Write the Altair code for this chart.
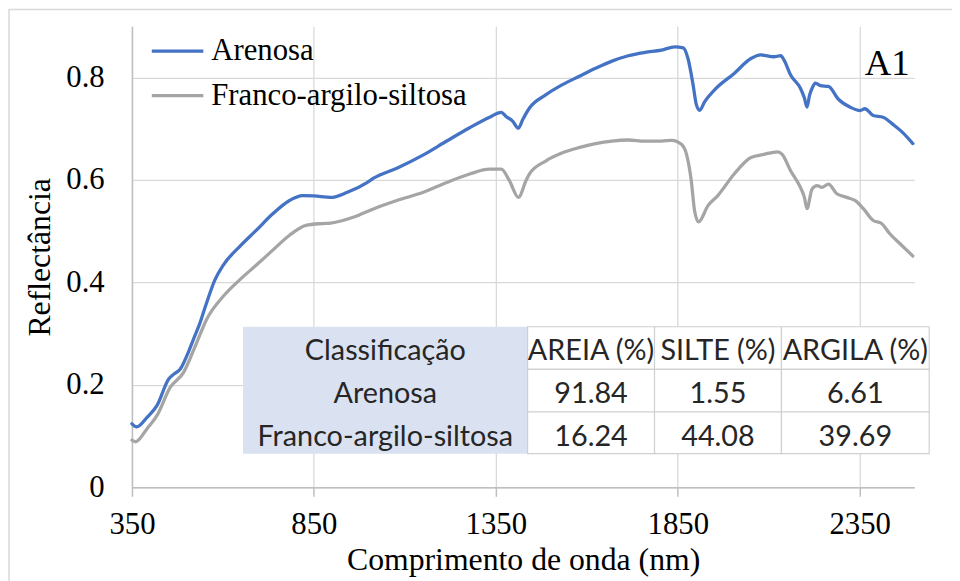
import altair as alt
import pandas as pd

# ---- data ----
aren_wl = [350, 363, 392, 419, 451, 465, 483, 501, 519, 537, 555, 578, 601, 646, 692, 737, 783,
           819, 850, 896, 942, 996, 1015, 1078, 1151, 1215, 1278, 1333, 1365, 1378, 1396, 1412,
           1424, 1442, 1487, 1533, 1578, 1624, 1669, 1714, 1760, 1805, 1842, 1865, 1878, 1892,
           1901, 1910, 1924, 1951, 2005, 2051, 2078, 2114, 2133, 2142, 2160, 2187, 2198, 2205,
           2212, 2219, 2228, 2242, 2264, 2292, 2324, 2351, 2364, 2387, 2414, 2442, 2469, 2496]
aren_r = [0.124, 0.118, 0.137, 0.160, 0.2115, 0.221, 0.231, 0.257, 0.289, 0.321, 0.360, 0.405,
          0.434, 0.470, 0.502, 0.534, 0.560, 0.5696, 0.569, 0.566, 0.576, 0.595, 0.604, 0.623,
          0.649, 0.676, 0.702, 0.7225, 0.732, 0.724, 0.715, 0.701, 0.718, 0.740, 0.766, 0.786,
          0.802, 0.818, 0.832, 0.8425, 0.849, 0.8535, 0.860, 0.858, 0.837, 0.786, 0.747, 0.736,
          0.753, 0.776, 0.808, 0.837, 0.844, 0.8405, 0.8425, 0.834, 0.805, 0.779, 0.760, 0.742,
          0.765, 0.779, 0.789, 0.784, 0.7825, 0.757, 0.742, 0.7355, 0.739, 0.726, 0.7225, 0.708,
          0.692, 0.671]

franco_wl = [350, 360, 392, 419, 455, 492, 528, 555, 601, 646, 692, 737, 783, 828, 873, 896,
             960, 1015, 1078, 1151, 1215, 1278, 1333, 1365, 1387, 1412, 1433, 1442, 1487, 1533,
             1578, 1624, 1669, 1714, 1760, 1805, 1833, 1860, 1874, 1887, 1896, 1907, 1933, 1960,
             2005, 2051, 2087, 2124, 2137, 2160, 2187, 2198, 2205, 2219, 2233, 2246, 2264, 2287,
             2314, 2337, 2360, 2387, 2410, 2432, 2460, 2496]
franco_r = [0.092, 0.089, 0.115, 0.1405, 0.195, 0.2245, 0.2826, 0.3277, 0.373, 0.405, 0.434,
            0.463, 0.492, 0.5115, 0.515, 0.516, 0.5276, 0.544, 0.560, 0.576, 0.595, 0.6116,
            0.621, 0.621, 0.599, 0.566, 0.599, 0.6116, 0.637, 0.653, 0.663, 0.671, 0.676, 0.678,
            0.676, 0.676, 0.6775, 0.6696, 0.650, 0.599, 0.5405, 0.518, 0.550, 0.5696, 0.6116,
            0.6437, 0.650, 0.655, 0.650, 0.618, 0.5856, 0.566, 0.544, 0.5826, 0.589, 0.5856,
            0.592, 0.573, 0.566, 0.560, 0.544, 0.521, 0.515, 0.4955, 0.476, 0.4515]

series_names = ["Arenosa", "Franco-argilo-siltosa"]
series_colors = ["#4472C4", "#A5A5A5"]
x_ticks = [350, 850, 1350, 1850, 2350]
y_ticks = [0, 0.2, 0.4, 0.6, 0.8]

table_header = ["Classificação", "AREIA (%)", "SILTE (%)", "ARGILA (%)"]
table_classes = ["Arenosa", "Franco-argilo-siltosa"]
areia = ["91.84", "16.24"]
silte = ["1.55", "44.08"]
argila = ["6.61", "39.69"]
panel_label = "A1"

# ---- layout ----
W, H = 789, 465
SERIF = "Liberation Serif"
SANS = "Lato"
col_edges = [112, 399, 527, 655, 804]
row_edges = [303, 346, 389, 431]

lines_df = pd.concat([
    pd.DataFrame({"wl": aren_wl, "r": aren_r, "serie": series_names[0]}),
    pd.DataFrame({"wl": franco_wl, "r": franco_r, "serie": series_names[1]}),
])

x_scale = alt.Scale(domain=[350, 2500], nice=False, zero=False)
y_scale = alt.Scale(domain=[0, 0.9], nice=False)

lines = alt.Chart(lines_df).mark_line(
    strokeWidth=3.3, strokeCap="round", strokeJoin="round", interpolate="monotone").encode(
    x=alt.X("wl:Q", scale=x_scale,
            axis=alt.Axis(values=x_ticks, format="d", title="Comprimento de onda (nm)", grid=True,
                          labelFont=SERIF, titleFont=SERIF, labelFontSize=31, labelFlush=False,
                          tickSize=9, labelPadding=14, titleY=83, titleBaseline="alphabetic",
                          titleX=W / 2, titleFontSize=32)),
    y=alt.Y("r:Q", scale=y_scale,
            axis=alt.Axis(values=y_ticks, format=".1~f", title="Reflectância", grid=True,
                          labelFont=SERIF, titleFont=SERIF, labelFontSize=31, labelFlush=False,
                          ticks=False, tickSize=0, labelPadding=28, titleX=-83, titleY=H / 2,
                          titleBaseline="alphabetic", titleFontSize=32)),
    color=alt.Color("serie:N", scale=alt.Scale(domain=series_names, range=series_colors),
                    legend=alt.Legend(orient="none", legendX=18, legendY=-3, title=None,
                                      symbolType="stroke", symbolStrokeWidth=3.3, symbolSize=2704,
                                      labelFont=SERIF, labelFontSize=31, labelColor="black",
                                      labelOffset=6, rowPadding=2, padding=0, labelLimit=600)),
)

# outer frame
frame = alt.Chart(pd.DataFrame({"k": [0]})).mark_rect(
    fill="transparent", stroke="#d9d9d9", strokeWidth=1.5).encode(
    x=alt.value(-124), x2=alt.value(W + 200), y=alt.value(-17), y2=alt.value(H + 200))

# table
cells = []
for r in range(3):
    for c in range(1, 4):
        cells.append({"x": col_edges[c], "x2": col_edges[c + 1],
                      "y": row_edges[r], "y2": row_edges[r + 1]})
cells_df = pd.DataFrame(cells)
first_col_df = pd.DataFrame({"x": [col_edges[0]], "x2": [col_edges[1]],
                             "y": [row_edges[0]], "y2": [row_edges[3]]})

first_col = alt.Chart(first_col_df).mark_rect(fill="#dae2f1").encode(
    x=alt.X("x:Q", scale=None, axis=None), x2="x2:Q",
    y=alt.Y("y:Q", scale=None, axis=None), y2="y2:Q")
cell_rects = alt.Chart(cells_df).mark_rect(fill="white", stroke="#d0d0d0", strokeWidth=1.2).encode(
    x=alt.X("x:Q", scale=None, axis=None), x2="x2:Q",
    y=alt.Y("y:Q", scale=None, axis=None), y2="y2:Q")

texts = []
rows = [table_header,
        [table_classes[0], areia[0], silte[0], argila[0]],
        [table_classes[1], areia[1], silte[1], argila[1]]]
for r, row in enumerate(rows):
    for c, t in enumerate(row):
        texts.append({"t": t, "cx": (col_edges[c] + col_edges[c + 1]) / 2,
                      "by": row_edges[r] + 34})
texts_df = pd.DataFrame(texts)
cell_text = alt.Chart(texts_df).mark_text(
    font=SANS, fontSize=29, color="#262626", baseline="alphabetic", align="center").encode(
    x=alt.X("cx:Q", scale=None, axis=None), y=alt.Y("by:Q", scale=None, axis=None), text="t:N")

label = alt.Chart(pd.DataFrame({"label": [panel_label]})).mark_text(
    font=SERIF, fontSize=37, color="black", align="left", baseline="alphabetic").encode(
    x=alt.value(739), y=alt.value(49), text="label:N")

chart = alt.layer(frame, lines, first_col, cell_rects, cell_text, label).properties(
    width=W, height=H,
    padding={"left": 125, "top": 16, "right": 38, "bottom": 92},
    autosize=alt.AutoSizeParams(type="none"),
).configure_view(strokeWidth=0).configure_axis(
    labelFont=SERIF, titleFont=SERIF, labelFontSize=31, labelColor="black", titleColor="black",
    titleFontWeight="normal", gridColor="#d9d9d9", gridWidth=1.3, domainColor="#bfbfbf",
    domainWidth=1.5, tickColor="#bfbfbf", tickWidth=1.5,
)

chart.save("out.html", embed_options={"renderer": "svg", "actions": False})
